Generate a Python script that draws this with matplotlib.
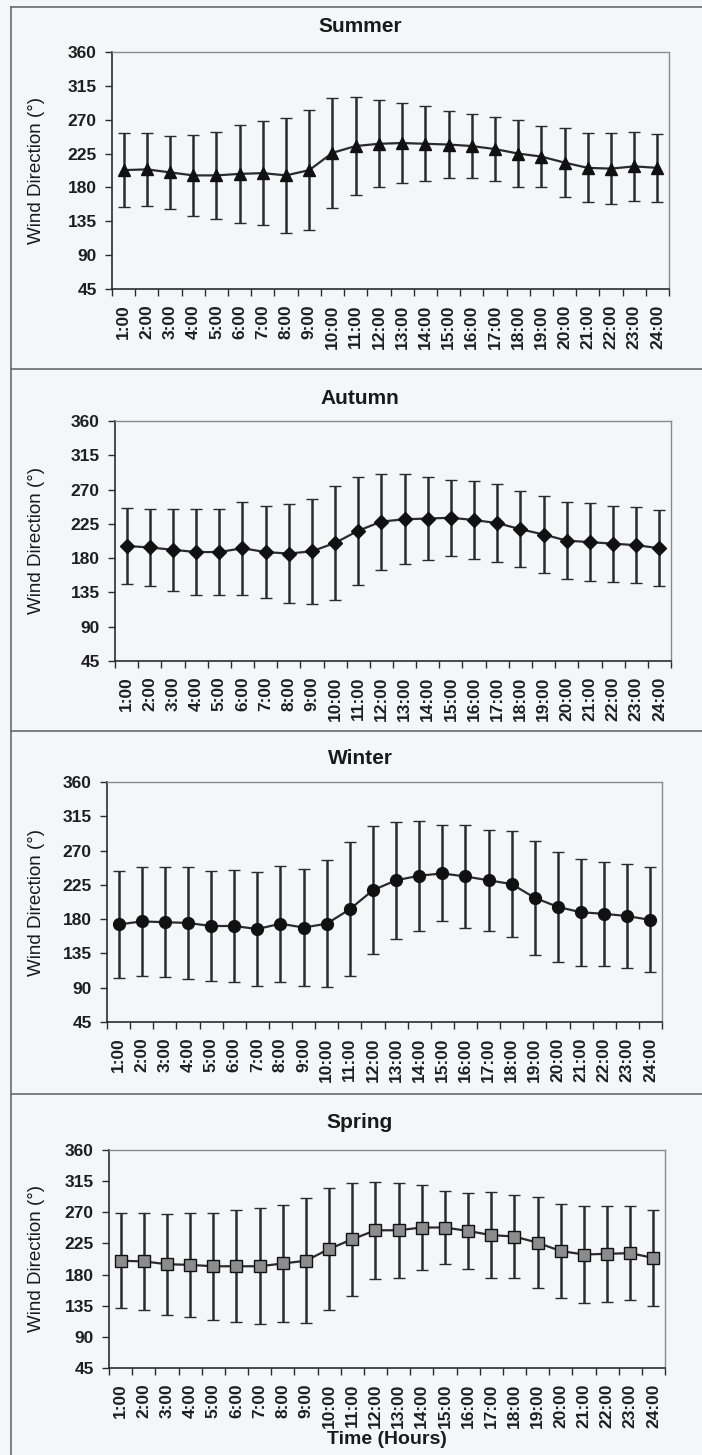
import matplotlib
matplotlib.use('Agg')
from matplotlib import pyplot as plt
from matplotlib.lines import Line2D

hours = [f'{h}:00' for h in range(1, 25)]

summer_mean = [203, 204, 200, 196, 196, 198, 199, 196, 203, 226, 235, 238,
               239, 238, 237, 235, 231, 225, 221, 213, 206, 205, 208, 206]
summer_sd = [49, 49, 49, 54, 58, 65, 69, 76, 80, 73, 65, 58,
             53, 50, 45, 43, 42, 45, 40, 46, 46, 47, 46, 45]

autumn_mean = [196, 194, 191, 188, 188, 193, 188, 186, 189, 200, 216, 228,
               231, 232, 233, 230, 226, 218, 211, 203, 201, 199, 197, 193]
autumn_sd = [50, 50, 54, 56, 57, 61, 60, 65, 69, 75, 71, 63,
             59, 55, 50, 51, 51, 50, 51, 51, 51, 50, 50, 50]

winter_mean = [173, 177, 176, 175, 171, 171, 167, 174, 169, 174, 193, 218,
               231, 237, 240, 236, 231, 226, 208, 196, 189, 187, 184, 179]
winter_sd = [70, 71, 72, 73, 72, 74, 75, 76, 77, 83, 88, 84,
             77, 72, 63, 67, 66, 70, 75, 72, 70, 68, 68, 69]

spring_mean = [200, 199, 195, 194, 192, 192, 192, 196, 200, 217, 231, 244,
               244, 248, 248, 243, 237, 235, 226, 214, 209, 210, 211, 204]
spring_sd = [69, 70, 73, 75, 77, 81, 84, 85, 90, 88, 82, 70,
             69, 61, 53, 55, 62, 60, 66, 68, 70, 69, 68, 69]

y_ticks = [45, 90, 135, 180, 225, 270, 315, 360]

W, H = 702, 1455
BG = '#f4f7f8'
DARK = '#2b2b2b'

plt.rcParams['font.family'] = ['Liberation Sans', 'DejaVu Sans']

fig = plt.figure(figsize=(W / 100, H / 100), dpi=100, facecolor=BG)


def px_axes(left, top, right, bottom):
    return fig.add_axes([left / W, 1 - bottom / H, (right - left) / W, (bottom - top) / H])


def season_panel(box, title, title_y, mean, sd, marker, mfc, msize):
    ax = px_axes(*box)
    ax.set_facecolor(BG)
    x = list(range(len(hours)))
    ax.errorbar(x, mean, yerr=sd, color=DARK, lw=1.6, ecolor=DARK, elinewidth=1.8,
                capsize=4, capthick=1.8, marker=marker, ms=msize, mfc=mfc,
                mec='#111111', mew=1.0, zorder=3)

    ax.set_xlim(-0.5, len(hours) - 0.5)
    ax.set_ylim(45, 360)
    ax.set_yticks(y_ticks)
    ax.set_yticklabels([str(t) for t in y_ticks], fontsize=12.5, fontweight='bold',
                       color='#1e1e1e')
    ax.set_xticks(x)
    ax.set_xticklabels(hours, rotation=90, fontsize=12.5, fontweight='bold',
                       color='#1e1e1e')
    ax.set_xticks([i - 0.5 for i in range(len(hours) + 1)], minor=True)
    ax.tick_params(axis='x', which='major', length=0, pad=11)
    ax.tick_params(axis='x', which='minor', length=5, width=1, direction='out', color=DARK)
    ax.tick_params(axis='y', length=5, width=1, direction='out', pad=6, color=DARK)

    for side in ['left', 'bottom']:
        ax.spines[side].set_color(DARK)
        ax.spines[side].set_linewidth(1.2)
    for side in ['top', 'right']:
        ax.spines[side].set_color('#8a8a8a')
        ax.spines[side].set_linewidth(1.0)
        ax.spines[side].set_linestyle((0, (2, 1)))

    fig.text(360 / W, 1 - title_y / H, title, ha='center', va='center',
             fontsize=15, fontweight='bold', color='#1a1a1a')
    mid_y = (box[1] + box[3]) / 2
    fig.text(37 / W, 1 - mid_y / H, 'Wind Direction (°)', rotation=90,
             ha='center', va='center', fontsize=13.5, color='#1a1a1a')
    return ax


season_panel((112, 52, 669, 289), 'Summer', 27, summer_mean, summer_sd, '^', '#111111', 8.5)
season_panel((115, 421, 671, 661), 'Autumn', 398, autumn_mean, autumn_sd, 'D', '#111111', 7)
season_panel((107, 782, 662, 1022), 'Winter', 758, winter_mean, winter_sd, 'o', '#111111', 8.5)
season_panel((109, 1150, 665, 1368), 'Spring', 1122, spring_mean, spring_sd, 's', '#8c8c8c', 8)
fig.text(387 / W, 1 - 1440 / H, 'Time (Hours)', ha='center', va='center',
         fontsize=14, fontweight='bold', color='#1a1a1a')

# box lines around the four chart panels
for y in [7, 369, 731, 1094]:
    fig.add_artist(Line2D([11 / W, 1], [1 - y / H, 1 - y / H], color='#6a6a6a', lw=1.2))
fig.add_artist(Line2D([11 / W, 11 / W], [0, 1 - 7 / H], color='#6a6a6a', lw=1.2))

plt.savefig('out.png', dpi=100, facecolor=BG)
